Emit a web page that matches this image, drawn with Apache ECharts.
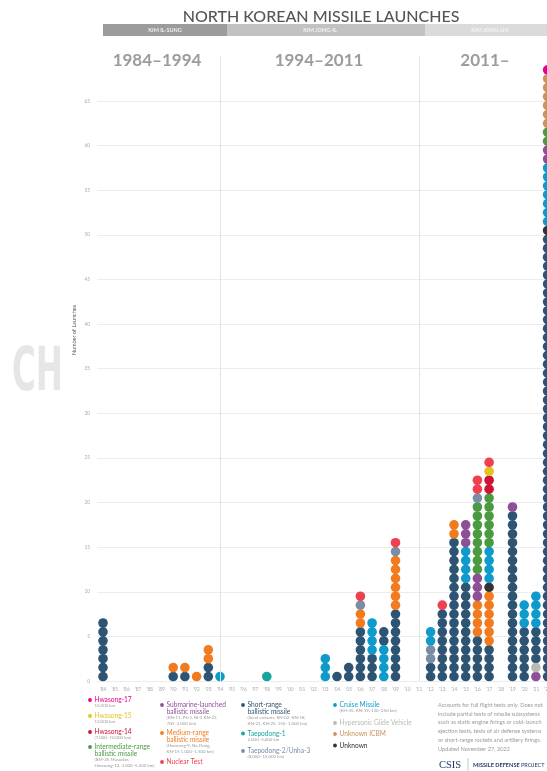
<!DOCTYPE html>
<html>

<head>
    <meta charset="utf-8">
    <title>North Korean Missile Launches</title>
    <script src="https://cdn.jsdelivr.net/npm/echarts@6/dist/echarts.min.js"></script>
    <style>
        html, body { margin: 0; padding: 0; background: #fff; }
        #main { width: 547px; height: 771px; }
    </style>
</head>

<body>
    <div id="main"></div>
    <script type="text/javascript">
        // years on the x axis, 1984 .. 2022
        var years = ["'84", "'85", "'86", "'87", "'88", "'89", "'90", "'91", "'92", "'93",
            "'94", "'95", "'96", "'97", "'98", "'99", "'00", "'01", "'02", "'03",
            "'04", "'05", "'06", "'07", "'08", "'09", "'10", "'11", "'12", "'13",
            "'14", "'15", "'16", "'17", "'18", "'19", "'20", "'21", "'22"]
        var yTicks = [0, 5, 10, 15, 20, 25, 30, 35, 40, 45, 50, 55, 60, 65]

        // launches per year, one array per missile type (same order as years)
        //                 84 ... 89 | 90 91 92 93 | 94 ... 99 | 00 01 02 03 | 04 05 06 07 08 09 | 10 11 | 12 13 14 15 16 17 | 18 19 20 21 22
        var shortRange   = [7,0,0,0,0,0, 1,1,0,2, 0,0,0,0,0,0, 0,0,0,0, 1,2,6,3,2,8, 0,0, 2,8,16,11,5,4, 0,19,6,4,50]
        var mediumRange  = [0,0,0,0,0,0, 1,1,1,2, 0,0,0,0,0,0, 0,0,0,0, 0,0,2,0,0,6, 0,0, 0,0,2,0,4,6, 0,0,0,0,0]
        var unknown      = [0,0,0,0,0,0, 0,0,0,0, 0,0,0,0,0,0, 0,0,0,0, 0,0,0,0,0,0, 0,0, 0,0,0,0,0,1, 0,0,0,0,1]
        var cruise       = [0,0,0,0,0,0, 0,0,0,0, 1,0,0,0,0,0, 0,0,0,3, 0,0,0,4,4,0, 0,0, 2,0,0,4,0,4, 0,0,3,4,7]
        var subLaunched  = [0,0,0,0,0,0, 0,0,0,0, 0,0,0,0,0,0, 0,0,0,0, 0,0,0,0,0,0, 0,0, 0,0,0,3,3,0, 0,1,0,1,2]
        var intermediate = [0,0,0,0,0,0, 0,0,0,0, 0,0,0,0,0,0, 0,0,0,0, 0,0,0,0,0,0, 0,0, 0,0,0,0,8,6, 0,0,0,0,2]
        var taepodong1   = [0,0,0,0,0,0, 0,0,0,0, 0,0,0,0,1,0, 0,0,0,0, 0,0,0,0,0,0, 0,0, 0,0,0,0,0,0, 0,0,0,0,0]
        var taepodong2   = [0,0,0,0,0,0, 0,0,0,0, 0,0,0,0,0,0, 0,0,0,0, 0,0,1,0,0,1, 0,0, 2,0,0,0,1,0, 0,0,0,0,0]
        var hwasong14    = [0,0,0,0,0,0, 0,0,0,0, 0,0,0,0,0,0, 0,0,0,0, 0,0,0,0,0,0, 0,0, 0,0,0,0,0,2, 0,0,0,0,0]
        var hwasong15    = [0,0,0,0,0,0, 0,0,0,0, 0,0,0,0,0,0, 0,0,0,0, 0,0,0,0,0,0, 0,0, 0,0,0,0,0,1, 0,0,0,0,0]
        var unknownIcbm  = [0,0,0,0,0,0, 0,0,0,0, 0,0,0,0,0,0, 0,0,0,0, 0,0,0,0,0,0, 0,0, 0,0,0,0,0,0, 0,0,0,0,6]
        var nuclearTest  = [0,0,0,0,0,0, 0,0,0,0, 0,0,0,0,0,0, 0,0,0,0, 0,0,1,0,0,1, 0,0, 0,1,0,0,2,1, 0,0,0,0,0]
        var hwasong17    = [0,0,0,0,0,0, 0,0,0,0, 0,0,0,0,0,0, 0,0,0,0, 0,0,0,0,0,0, 0,0, 0,0,0,0,0,0, 0,0,0,0,1]
        var hypersonic   = [0,0,0,0,0,0, 0,0,0,0, 0,0,0,0,0,0, 0,0,0,0, 0,0,0,0,0,0, 0,0, 0,0,0,0,0,0, 0,0,0,1,0]

        var types = {
            srbm: { counts: shortRange, color: "#2e5474" },
            mrbm: { counts: mediumRange, color: "#f27b1f" },
            unk: { counts: unknown, color: "#333333" },
            cruise: { counts: cruise, color: "#0e9bcc" },
            slbm: { counts: subLaunched, color: "#8d4f96" },
            irbm: { counts: intermediate, color: "#4a9a40" },
            tpd1: { counts: taepodong1, color: "#15a69c" },
            tpd2: { counts: taepodong2, color: "#7a8da6" },
            hs14: { counts: hwasong14, color: "#cc1236" },
            hs15: { counts: hwasong15, color: "#e6c220" },
            icbm: { counts: unknownIcbm, color: "#c8945f" },
            nuke: { counts: nuclearTest, color: "#ee404f" },
            hs17: { counts: hwasong17, color: "#ea008b" },
            hgv: { counts: hypersonic, color: "#b7bcb3" }
        }
        // bottom-to-top stacking inside a column
        var stackOrder = ["srbm", "mrbm", "unk", "cruise", "slbm", "irbm", "tpd1", "tpd2", "hs14", "hs15", "icbm", "nuke", "hs17", "hgv"]
        var orderOverrides = {
            "'08": ["cruise", "srbm"],
            "'12": ["srbm", "tpd2", "cruise"],
            "'21": ["slbm", "hgv", "srbm", "cruise"]
        }

        var points = {}
        stackOrder.forEach(function (k) { points[k] = [] })
        years.forEach(function (yr, i) {
            var order = orderOverrides[yr] || stackOrder
            var level = 0
            order.forEach(function (k) {
                for (var n = 0; n < types[k].counts[i]; n++) {
                    points[k].push([i, level + 0.5])
                    level++
                }
            })
        })

        var series = stackOrder.map(function (k) {
            return {
                type: "scatter",
                name: k,
                data: points[k],
                symbolSize: 9.6,
                itemStyle: { color: types[k].color, opacity: 1 },
                silent: true,
                z: 3
            }
        })
        // leader separators
        series.push({
            type: "scatter",
            data: [],
            z: 1,
            markLine: {
                silent: true,
                symbol: "none",
                label: { show: false },
                lineStyle: { color: "#e3e3e3", width: 1, type: "solid" },
                data: [{ xAxis: "'94" }, { xAxis: "'11" }]
            }
        })

        // ---- text / legend drawing ----
        var g = []
        function txt(x, y, s, font, fill, align, extra) {
            var o = {
                type: "text", x: x, y: y, silent: true,
                style: { text: s, font: font, fill: fill, textAlign: align || "left", textVerticalAlign: "middle" }
            }
            if (extra) Object.assign(o, extra)
            g.push(o)
        }

        txt(321, 17, "NORTH KOREAN MISSILE LAUNCHES", "500 16px Lato", "#555", "center")
        g.push({ type: "rect", silent: true, shape: { x: 103, y: 24, width: 124, height: 12 }, style: { fill: "#9b9c9e" } })
        g.push({ type: "rect", silent: true, shape: { x: 227, y: 24, width: 198, height: 12 }, style: { fill: "#c0c2c4" } })
        g.push({ type: "rect", silent: true, shape: { x: 425, y: 24, width: 122, height: 12 }, style: { fill: "#dadbdc" } })
        txt(165, 30.5, "KIM IL-SUNG", "bold 5.5px Lato", "#eeeeee", "center")
        txt(320, 30.5, "KIM JONG-IL", "bold 5.5px Lato", "#f2f2f2", "center")
        txt(490, 30.5, "KIM JONG-UN", "bold 5.5px Lato", "#f5f5f5", "center")

        txt(157, 61, "1984\u20131994", "bold 17px Lato", "#9c9c9c", "center")
        txt(319, 61, "1994\u20132011", "bold 17px Lato", "#9c9c9c", "center")
        txt(485, 61, "2011\u2013", "bold 17px Lato", "#9c9c9c", "center")

        // faint watermark on the left
        g.push({
            type: "text", x: 12, y: 374, scaleX: 0.54, silent: true,
            style: {
                text: "CH", fontSize: 60, fontWeight: "bold", fontFamily: "DejaVu Sans",
                fill: "#e6e6e6", textAlign: "left", textVerticalAlign: "middle"
            }
        })
        txt(74, 330, "Number of Launches", "5.5px Lato", "#555", "center", { rotation: Math.PI / 2 })

        var legendItems = [
            { k: "hs17", x: 90, y: 700, label: ["Hwasong-17"], sub: ["15,000 km"] },
            { k: "hs15", x: 90, y: 716, label: ["Hwasong-15"], sub: ["13,000 km"] },
            { k: "hs14", x: 90, y: 732, label: ["Hwasong-14"], sub: ["(7,000\u201310,000 km)"] },
            { k: "irbm", x: 90, y: 747, label: ["Intermediate-range", "ballistic missile"], sub: ["(BM-25 Musudan,", "Hwasong-12, 3,000\u20135,500 km)"] },
            { k: "slbm", x: 162, y: 705, label: ["Submarine-launched", "ballistic missile"], sub: ["(KN-11, Pk-3, Nl-3 KN-23", "700\u20132,000 km)"] },
            { k: "mrbm", x: 162, y: 733, label: ["Medium-range", "ballistic missile"], sub: ["(Hwasong-9, No Dong,", "KN-15 1,000\u20131,500 km)"] },
            { k: "nuke", x: 162, y: 762, label: ["Nuclear Test"], sub: [] },
            { k: "srbm", x: 243, y: 705, label: ["Short-range", "ballistic missile"], sub: ["(Scud variants, KN-02, KN-18,", "KN-21, KN-25, 150\u20131,000 km)"] },
            { k: "tpd1", x: 243, y: 733.5, label: ["Taepodong-1"], sub: ["2,000\u20135,000 km"] },
            { k: "tpd2", x: 243, y: 751, label: ["Taepodong-2/Unha-3"], sub: ["(8,000\u201315,000 km)"] },
            { k: "cruise", x: 335, y: 705, label: ["Cruise Missile"], sub: ["(KH-35, KN-19, 130\u2013250 km)"] },
            { k: "hgv", x: 335, y: 723, label: ["Hypersonic Glide Vehicle"], sub: [] },
            { k: "icbm", x: 335, y: 734, label: ["Unknown ICBM"], sub: [] },
            { k: "unk", x: 335, y: 745.5, label: ["Unknown"], sub: [] }
        ]
        legendItems.forEach(function (it) {
            var c = types[it.k].color
            g.push({ type: "circle", silent: true, shape: { cx: it.x, cy: it.y, r: 1.9 }, style: { fill: c } })
            var y = it.y
            it.label.forEach(function (l, j) {
                txt(it.x + 4.5, y, l, "6.6px Lato", it.k === "unk" ? "#333" : c)
                y += 7.2
            })
            y -= 1.6
            it.sub.forEach(function (s) {
                txt(it.x + 4.5, y, s, "4.4px Lato", "#9a9a9a")
                y += 5.4
            })
        })

        var notes = ["Accounts for full flight tests only. Does not",
            "include partial tests of missile subsystems",
            "such as static engine firings or cold-launch",
            "ejection tests, tests of air defense systems",
            "or short-range rockets and artillery firings.",
            "Updated November 27, 2022"]
        notes.forEach(function (s, j) {
            txt(438, 705 + j * 8.8, s, "5.6px Lato", "#9a9a9a")
        })
        txt(439, 765, "CSIS", "10.5px 'Liberation Serif'", "#1f3a64")
        g.push({ type: "line", silent: true, shape: { x1: 468, y1: 758, x2: 468, y2: 772 }, style: { stroke: "#9aa5b5", lineWidth: 0.6 } })
        txt(473, 765, "MISSILE DEFENSE", "bold 5.6px Lato", "#1f3a64")
        txt(521, 765, "PROJECT", "5.6px Lato", "#1f3a64")

        var myChart = echarts.init(document.getElementById("main"))
        var option = {
            animation: false,
            backgroundColor: "#fff",
            grid: { left: 97.15, top: 56.4, width: 456.3, height: 624.6, outerBoundsMode: "none", containLabel: false },
            xAxis: {
                type: "category",
                data: years,
                axisLine: { show: false },
                axisTick: { show: false },
                axisLabel: { interval: 0, fontSize: 4.8, color: "#aaa", margin: 6, fontFamily: "Lato" },
                splitLine: { show: false }
            },
            yAxis: {
                type: "value",
                min: 0,
                max: 70,
                interval: 5,
                axisLine: { show: false },
                axisTick: { show: false },
                axisLabel: {
                    fontSize: 4.8, color: "#aaa", margin: 7, fontFamily: "Lato", showMaxLabel: false,
                    formatter: function (v) { return yTicks.indexOf(v) >= 0 ? String(v) : "" }
                },
                splitLine: { show: true, showMaxLine: false, lineStyle: { color: "#ececec", width: 1 } }
            },
            graphic: g,
            series: series
        }
        myChart.setOption(option)
    </script>
</body>

</html>
